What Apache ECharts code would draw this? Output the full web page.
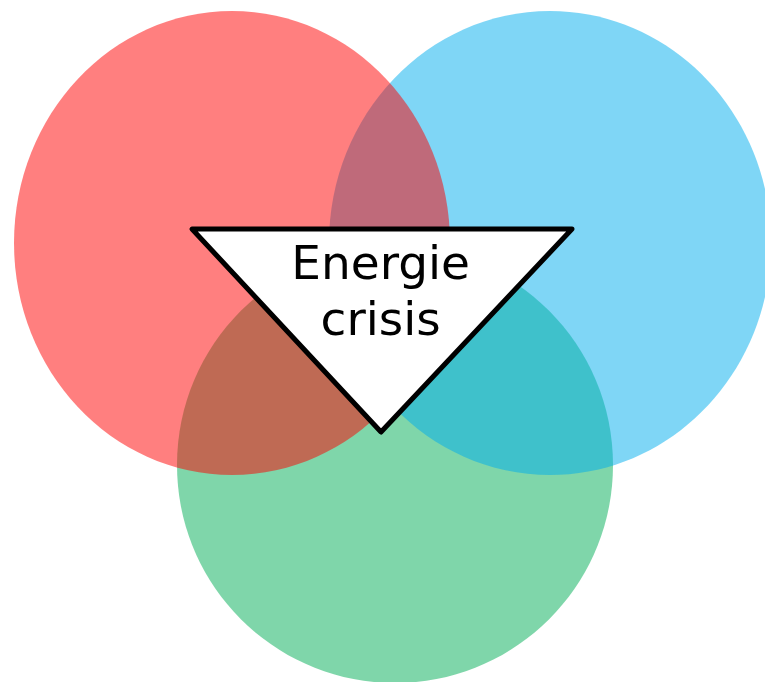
<!DOCTYPE html>
<html>
<head>
<meta charset="utf-8">
<script src="https://cdn.jsdelivr.net/npm/echarts@6/dist/echarts.min.js"></script>
<style>
  html, body { margin: 0; padding: 0; background: #fff; }
  #chart { width: 765px; height: 682px; }
</style>
</head>
<body>
<div id="chart"></div>
<script>
// circles, drawn bottom to top (green, blue, red)
var circleNames = ["green", "blue", "red"];
var circleX = [395, 550, 232];
var circleY = [465, 243, 243];
var circleRx = [218, 221, 218];
var circleRy = [218, 232, 232];
var circleColors = ["rgba(0,173,85,0.5)", "rgba(0,173,238,0.5)", "rgba(255,0,0,0.5)"];

// middle triangle
var triX = [192, 572, 381];
var triY = [229, 229, 432];
var triText = "Energie\ncrisis";

var myChart = echarts.init(document.getElementById("chart"));

var circleData = circleNames.map(function (n, i) {
  return [circleX[i], circleY[i], circleRx[i], circleRy[i]];
});
var triData = triX.map(function (x, i) {
  return [x, triY[i]];
});

var option = {
  animation: false,
  grid: { left: 0, right: 0, top: 0, bottom: 0 },
  xAxis: { type: "value", min: 0, max: 765, show: false },
  yAxis: { type: "value", min: 0, max: 682, inverse: true, show: false },
  series: [
    {
      type: "custom",
      data: circleData,
      renderItem: function (params, api) {
        var c = api.coord([api.value(0), api.value(1)]);
        var s = api.size([api.value(2), api.value(3)]);
        return {
          type: "ellipse",
          z2: params.dataIndex,
          shape: { cx: c[0], cy: c[1], rx: s[0], ry: s[1] },
          style: { fill: circleColors[params.dataIndex] }
        };
      }
    },
    {
      type: "custom",
      data: [0],
      z: 3,
      renderItem: function (params, api) {
        var pts = triData.map(function (p) { return api.coord(p); });
        var cx = (pts[0][0] + pts[1][0] + pts[2][0]) / 3;
        var cy = (pts[0][1] + pts[1][1] + pts[2][1]) / 3;
        return {
          type: "group",
          children: [
            {
              type: "polygon",
              shape: { points: pts },
              style: { fill: "#fff", stroke: "#000", lineWidth: 5, lineJoin: "round" }
            },
            {
              type: "text",
              x: cx - 1,
              y: cy - 2,
              style: {
                text: triText,
                fill: "#000",
                fontSize: 47,
                lineHeight: 56,
                fontFamily: "DejaVu Sans",
                align: "center",
                verticalAlign: "middle"
              }
            }
          ]
        };
      }
    }
  ]
};

myChart.setOption(option);
</script>
</body>
</html>
